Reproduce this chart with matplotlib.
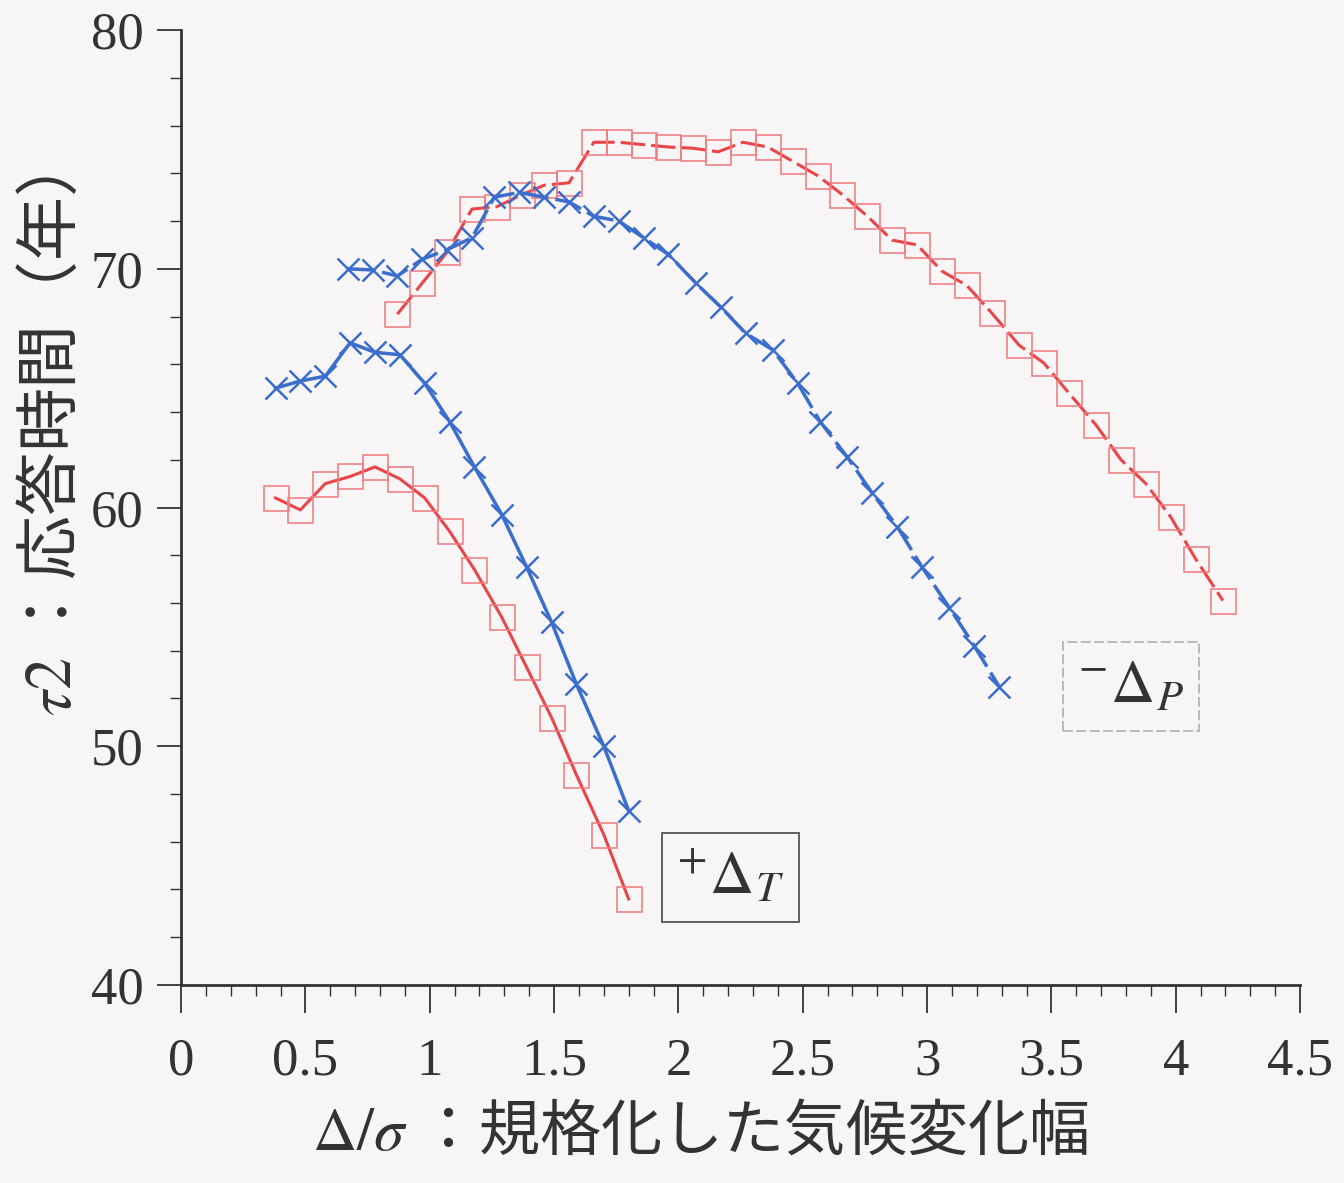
import matplotlib
matplotlib.use("Agg")
import matplotlib.pyplot as plt
from matplotlib.ticker import MultipleLocator

# Normalised climate change width (Δ/σ) and response time τ2 (years)
# +ΔT runs
x_dt = [0.38, 0.48, 0.58, 0.68, 0.78, 0.88, 0.98, 1.08, 1.18, 1.29,
        1.39, 1.49, 1.59, 1.70, 1.80]
tau_dt_sq = [60.4, 59.9, 61.0, 61.3, 61.7, 61.2, 60.4, 59.0, 57.4, 55.4,
             53.3, 51.2, 48.8, 46.3, 43.6]
tau_dt_x = [65.0, 65.3, 65.5, 66.9, 66.5, 66.4, 65.2, 63.6, 61.7, 59.7,
            57.5, 55.2, 52.6, 50.0, 47.3]

# -ΔP runs
x_dp_x = [0.67, 0.77, 0.87, 0.97, 1.07, 1.17, 1.26, 1.36, 1.46, 1.56,
          1.66, 1.76, 1.86, 1.96, 2.07, 2.17, 2.27, 2.38, 2.48, 2.57,
          2.68, 2.78, 2.88, 2.98, 3.09, 3.19, 3.29]
tau_dp_x = [70.0, 69.95, 69.7, 70.4, 70.8, 71.3, 73.0, 73.2, 73.0, 72.8,
            72.2, 72.0, 71.3, 70.6, 69.4, 68.4, 67.3, 66.6, 65.2, 63.6,
            62.1, 60.6, 59.2, 57.5, 55.8, 54.2, 52.5]
x_dp_sq = [0.87, 0.97, 1.07, 1.17, 1.27, 1.37, 1.46, 1.56, 1.66, 1.76,
           1.86, 1.96, 2.06, 2.16, 2.26, 2.36, 2.46, 2.56, 2.66, 2.76,
           2.86, 2.96, 3.06, 3.16, 3.26, 3.37, 3.47, 3.57, 3.68, 3.78,
           3.88, 3.98, 4.08, 4.19]
tau_dp_sq = [68.1, 69.4, 70.7, 72.5, 72.6, 73.1, 73.5, 73.6, 75.3, 75.3,
             75.2, 75.1, 75.05, 74.9, 75.3, 75.1, 74.5, 73.9, 73.1, 72.2,
             71.2, 71.0, 69.9, 69.3, 68.15, 66.8, 66.05, 64.8, 63.45, 62.0,
             61.0, 59.6, 57.85, 56.1]

x_ticks = [0, 0.5, 1, 1.5, 2, 2.5, 3, 3.5, 4, 4.5]
x_tick_labels = ["0", "0.5", "1", "1.5", "2", "2.5", "3", "3.5", "4", "4.5"]
y_ticks = [40, 50, 60, 70, 80]

BG = "#f7f5f5"
INK = "#333333"
RED = "#e8464a"
RED_MK = "#f07a7c"
BLUE = "#3b6dcc"

plt.rcParams["mathtext.fontset"] = "stix"
CJK = ["Noto Sans CJK JP", "DejaVu Sans"]

fig = plt.figure(figsize=(13.44, 11.83), dpi=100, facecolor=BG)
ax = fig.add_axes([0.1347, 0.1674, 0.8326, 0.8072], facecolor=BG)

sq = dict(marker="s", ms=18, mfc="none", mec=RED_MK, mew=1.1)
xx = dict(marker="x", ms=16, mec=BLUE, mew=1.8)

ax.plot(x_dt, tau_dt_sq, color=RED, lw=2.2, **sq, zorder=3)
ax.plot(x_dt, tau_dt_x, color=BLUE, lw=2.5, **xx, zorder=3)
ax.plot(x_dp_sq, tau_dp_sq, color=RED, lw=2.2, dashes=(8, 2), **sq, zorder=3)
ax.plot(x_dp_x, tau_dp_x, color=BLUE, lw=2.5, dashes=(8, 2), **xx, zorder=3)

ax.set_xlim(0, 4.5)
ax.set_ylim(40, 80)
ax.set_xticks(x_ticks)
ax.set_xticklabels(x_tick_labels)
ax.set_yticks(y_ticks)
ax.xaxis.set_minor_locator(MultipleLocator(0.1))
ax.yaxis.set_minor_locator(MultipleLocator(2))

for side in ("top", "right"):
    ax.spines[side].set_visible(False)
for side in ("left", "bottom"):
    ax.spines[side].set_color(INK)
    ax.spines[side].set_linewidth(2.0)

ax.tick_params(which="major", direction="out", length=17, width=1.3,
               color=INK, labelcolor=INK)
ax.tick_params(which="minor", direction="out", length=8, width=1.0, color=INK)
ax.tick_params(axis="x", which="major", length=20, pad=18)
ax.tick_params(axis="y", which="major", pad=10)
for lab in ax.get_xticklabels() + ax.get_yticklabels():
    lab.set_fontfamily("Liberation Serif")
    lab.set_fontsize(38)

ax.set_xlabel(r"$\Delta/\sigma$ ：規格化した気候変化幅", fontsize=44,
              family=CJK, color=INK)
ax.xaxis.set_label_coords(0.464, -0.122)
ax.set_ylabel(r"$\tau$$\mathrm{2}$ ：応答時間（年）", fontsize=46,
              family=CJK, color=INK)
ax.yaxis.set_label_coords(-0.085, 0.565)

# series tags
ax.text(2.21, 44.5, r"$^{+}\Delta_{T}$", fontsize=44, color=INK,
        ha="center", va="center",
        bbox=dict(boxstyle="square,pad=0.25", fc="none", ec="#555555", lw=1.3))
ax.text(3.82, 52.5, r"$^{-}\Delta_{P}$", fontsize=44, color=INK,
        ha="center", va="center",
        bbox=dict(boxstyle="square,pad=0.25", fc="none", ec="#b0b0b0",
                  lw=1.2, ls=(0, (6, 2))))

fig.savefig("out.png", dpi=100, facecolor=BG)
